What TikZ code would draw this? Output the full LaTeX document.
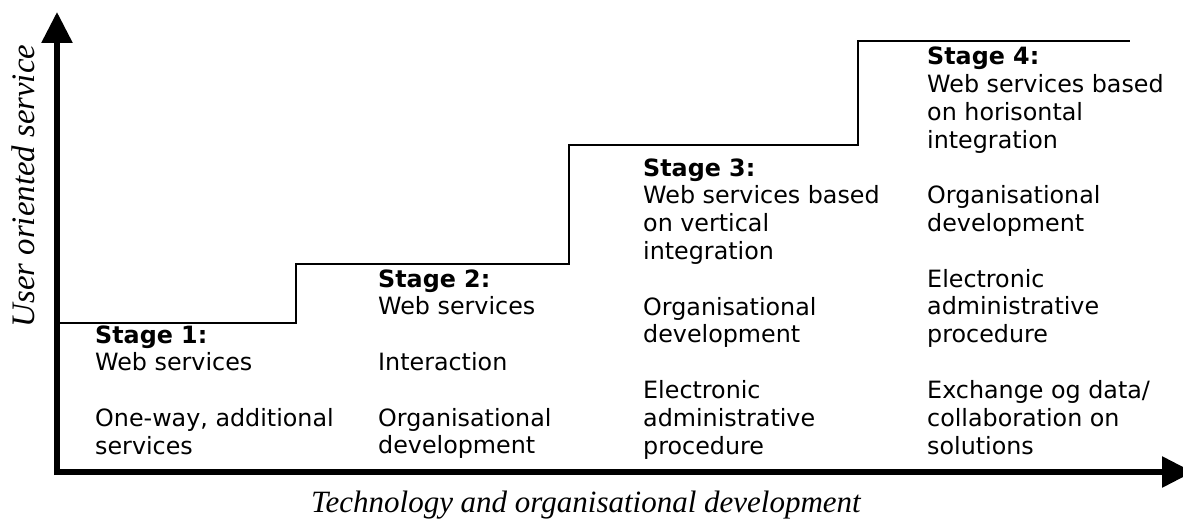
\documentclass[tikz,border=0pt]{standalone}
\usepackage{fontspec}
\setmainfont{DejaVu Sans}
\newfontfamily\labelfont{Liberation Serif}
\usetikzlibrary{arrows.meta}
\tikzset{
  x=1pt, y=-1pt,
  axisline/.style={line width=5.8pt, -{Triangle[length=31pt,width=30pt]}},
  stairline/.style={line width=1.8pt, line join=miter},
  stagetext/.style={inner sep=0pt, anchor=base west, font=\fontsize{23.8}{27.8}\selectfont},
  axislabel/.style={inner sep=0pt, font=\labelfont\itshape}
}
\newcommand{\stagecol}[1]{\begin{tabular}[t]{@{}l@{}}#1\end{tabular}}
\begin{document}
\begin{tikzpicture}
\useasboundingbox (0,0) rectangle (1183,519);
% coordinates
\coordinate (ybot) at (57,475);
\coordinate (xleft) at (54,472);
\coordinate (ytip) at (57,12);
\coordinate (xtip) at (1193,472);
\coordinate (s0) at (57,323);
\coordinate (s1) at (296,323);
\coordinate (s2) at (296,264);
\coordinate (s3) at (569,264);
\coordinate (s4) at (569,145);
\coordinate (s5) at (858,145);
\coordinate (s6) at (858,41);
\coordinate (s7) at (1130,41);
% staircase
\draw[stairline] (s0) -- (s1) -- (s2) -- (s3) -- (s4) -- (s5) -- (s6) -- (s7);
% axes
\draw[axisline] (ybot) -- (ytip);
\draw[axisline] (xleft) -- (xtip);
% axis labels
\node[axislabel, rotate=90, anchor=base, font=\labelfont\itshape\fontsize{32.8}{36}\selectfont] (ylab) at (34,186) {User oriented service};
\node[axislabel, anchor=base, font=\labelfont\itshape\fontsize{31}{36}\selectfont] (xlab) at (586,512) {Technology and organisational development};
% stages
\node[stagetext] (st1) at (95,343) {\stagecol{\textbf{Stage 1:}\\ Web services\\ \\ One-way, additional\\ services}};
\node[stagetext] (st2) at (378,287) {\stagecol{\textbf{Stage 2:}\\ Web services\\ \\ Interaction\\ \\ Organisational\\ development}};
\node[stagetext] (st3) at (643,176) {\stagecol{\textbf{Stage 3:}\\ Web services based\\ on vertical\\ integration\\ \\ Organisational\\ development\\ \\ Electronic\\ administrative\\ procedure}};
\node[stagetext] (st4) at (927,64.8) {\stagecol{\textbf{Stage 4:}\\ Web services based\\ on horisontal\\ integration\\ \\ Organisational\\ development\\ \\ Electronic\\ administrative\\ procedure\\ \\ Exchange og data/\\ collaboration on\\ solutions}};
\end{tikzpicture}
\end{document}
